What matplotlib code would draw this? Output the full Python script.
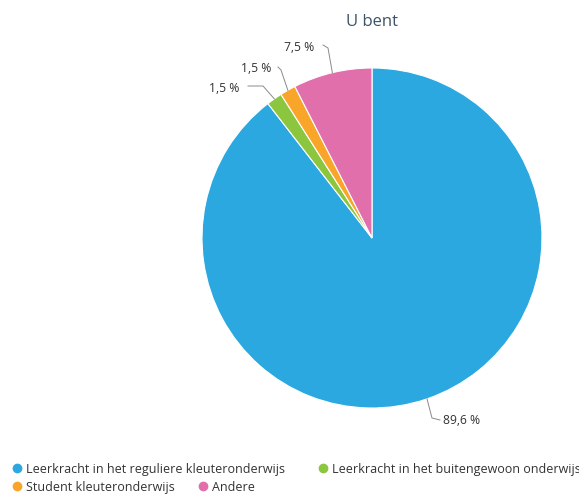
import matplotlib
matplotlib.use("Agg")
import matplotlib.pyplot as plt
import numpy as np
from matplotlib.lines import Line2D

categories = ["Leerkracht in het reguliere kleuteronderwijs",
              "Leerkracht in het buitengewoon onderwijs",
              "Student kleuteronderwijs",
              "Andere"]
values = [89.6, 1.5, 1.5, 7.5]
labels = ["89,6 %", "1,5 %", "1,5 %", "7,5 %"]
colors = ["#2ba8e0", "#8cc63f", "#f9a52a", "#e06fac"]

plt.rcParams['font.family'] = ['Open Sans', 'DejaVu Sans']

W, H = 579, 494
fig = plt.figure(figsize=(W / 100, H / 100), dpi=100)
cx, cy, R = 372, 238, 170
ax = fig.add_axes([(cx - R) / W, (H - cy - R) / H, 2 * R / W, 2 * R / H])
wedges, _ = ax.pie(values, colors=colors, startangle=90, counterclock=False,
                   radius=1, wedgeprops=dict(edgecolor="white", linewidth=0.8))
ax.set_xlim(-1, 1)
ax.set_ylim(-1, 1)
ax.set_aspect("equal")
ax.axis("off")

def px(x, y):
    return ((x - cx) / R, (cy - y) / R)

# label layout in pixel coords: (elbow, end, text anchor, ha)
layout = [
    (px(432, 418), px(440, 420), px(443, 420), "left"),
    (px(263, 86), px(248, 86), px(239, 88), "right"),
    (px(281, 70), px(278, 67), px(271, 68), "right"),
    (px(328, 48), px(323, 45), px(314, 47), "right"),
]
for w, lab, (elb, end, txt, ha) in zip(wedges, labels, layout):
    ang = np.deg2rad((w.theta1 + w.theta2) / 2)
    x0, y0 = np.cos(ang), np.sin(ang)
    ax.plot([x0, elb[0], end[0]], [y0, elb[1], end[1]], color="#8a8a8a",
            lw=0.7, clip_on=False)
    ax.text(txt[0], txt[1], lab, ha=ha, va="center", fontsize=8.7,
            color="#333333", clip_on=False)

fig.text(cx / W, 1 - 22 / H, "U bent", ha="center", va="center",
         fontsize=12, color="#3e5368")

def handle(c):
    return Line2D([], [], marker="o", color="none", markerfacecolor=c,
                  markeredgecolor=c, markersize=6)

fs = 9.0
hl = 0.6
# marker centre positions (pixels)
entries = [(0, 17, 469), (1, 323, 469), (2, 17, 487), (3, 203, 487)]
for i, mx, my in entries:
    off = hl * fs / 72 * 100 / 2
    leg = fig.legend([handle(colors[i])], [categories[i]],
                     loc="center left",
                     bbox_to_anchor=((mx - off) / W, 1 - my / H),
                     frameon=False, fontsize=fs, handlelength=hl,
                     handletextpad=0.4, borderaxespad=0, borderpad=0)
    for t in leg.get_texts():
        t.set_color("#333333")

fig.savefig("out.png", dpi=100)
